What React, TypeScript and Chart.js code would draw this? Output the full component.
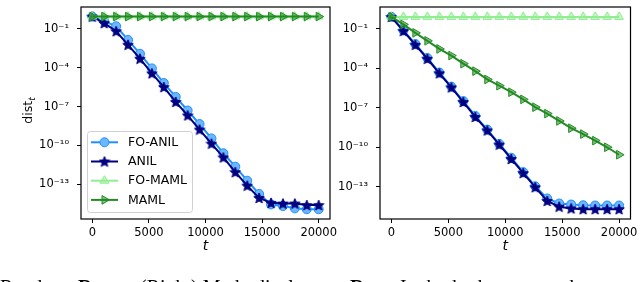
import React, { useEffect, useRef } from 'react';
import { Chart, registerables } from 'chart.js';
import { drawPoint } from 'chart.js/helpers';

Chart.register(...registerables);

// ---- data ----
const tValues = [0, 1053, 2105, 3158, 4211, 5263, 6316, 7368, 8421, 9474, 10526, 11579, 12632, 13684, 14737, 15789, 16842, 17895, 18947, 20000];
const xTickValues = [0, 5000, 10000, 15000, 20000];
const yTickValues = [1e-13, 1e-10, 1e-7, 1e-4, 1e-1];
const yTickLabels = ['10⁻¹³', '10⁻¹⁰', '10⁻⁷', '10⁻⁴', '10⁻¹'];
const seriesNames = ['FO-ANIL', 'ANIL', 'FO-MAML', 'MAML'];

// left panel (random init)
const leftFoAnil = [8.9e-1, 4.0e-1, 1.6e-1, 1.4e-2, 1.2e-3, 8.9e-5, 6.6e-6, 5.6e-7, 5.0e-8, 4.5e-9, 3.5e-10, 2.5e-11, 2.3e-12, 1.9e-13, 1.8e-14, 2.8e-15, 2.1e-15, 1.4e-15, 1.2e-15, 1.2e-15];
const leftAnil = [8.9e-1, 2.8e-1, 6.6e-2, 5.9e-3, 5.0e-4, 3.7e-5, 3.2e-6, 2.3e-7, 2.1e-8, 1.7e-9, 1.4e-10, 1.2e-11, 8.7e-13, 7.9e-14, 8.9e-15, 3.7e-15, 3.3e-15, 3.3e-15, 2.5e-15, 2.5e-15];
const leftFoMaml = [8.9e-1, 8.9e-1, 8.9e-1, 8.9e-1, 8.9e-1, 8.9e-1, 8.9e-1, 8.9e-1, 8.9e-1, 8.9e-1, 8.9e-1, 8.9e-1, 8.9e-1, 8.9e-1, 8.9e-1, 8.9e-1, 8.9e-1, 8.9e-1, 8.9e-1, 8.9e-1];
const leftMaml = [8.9e-1, 8.9e-1, 8.9e-1, 8.9e-1, 8.9e-1, 8.9e-1, 8.9e-1, 8.9e-1, 8.9e-1, 8.9e-1, 8.9e-1, 8.9e-1, 8.9e-1, 8.9e-1, 8.9e-1, 8.9e-1, 8.9e-1, 8.9e-1, 8.9e-1, 8.9e-1];

// right panel (methodical init)
const rightFoAnil = [7.8e-1, 7.6e-2, 6.8e-3, 6.0e-4, 4.7e-5, 4.0e-6, 3.2e-7, 2.4e-8, 2.2e-9, 1.8e-10, 1.6e-11, 1.3e-12, 1.1e-13, 1.3e-14, 5.4e-15, 4.5e-15, 4.0e-15, 3.8e-15, 3.8e-15, 3.8e-15];
const rightAnil = [7.8e-1, 6.6e-2, 6.0e-3, 5.2e-4, 4.1e-5, 3.5e-6, 2.7e-7, 2.0e-8, 1.9e-9, 1.6e-10, 1.3e-11, 1.1e-12, 9.3e-14, 8.5e-15, 3.1e-15, 2.3e-15, 2.0e-15, 2.0e-15, 2.0e-15, 2.0e-15];
const rightFoMaml = [7.8e-1, 7.8e-1, 7.8e-1, 7.8e-1, 7.8e-1, 7.8e-1, 7.8e-1, 7.8e-1, 7.8e-1, 7.8e-1, 7.8e-1, 7.8e-1, 7.8e-1, 7.8e-1, 7.8e-1, 7.8e-1, 7.8e-1, 7.8e-1, 7.8e-1, 7.8e-1];
const rightMaml = [7.8e-1, 2.1e-1, 4.8e-2, 1.2e-2, 2.9e-3, 9.1e-4, 2.2e-4, 6.0e-5, 1.4e-5, 4.7e-6, 1.5e-6, 4.3e-7, 1.1e-7, 3.6e-8, 1.0e-8, 2.8e-9, 1.0e-9, 3.2e-10, 1.0e-10, 2.7e-11];

const leftYRange = [2.1e-16, 4.9];
const rightYRange = [3.6e-16, 4.4];
const xRange = [-1000, 21000];

const FONT = 'DejaVu Sans';

function makeStar(size: number, fill: string, stroke: string) {
  const c = document.createElement('canvas');
  c.width = size;
  c.height = size;
  const ctx = c.getContext('2d')!;
  const cx = size / 2, cy = size / 2 + 0.5, R = size / 2 - 0.5, r = R * 0.45;
  ctx.beginPath();
  for (let i = 0; i < 10; i++) {
    const a = -Math.PI / 2 + (i * Math.PI) / 5;
    const rad = i % 2 === 0 ? R : r;
    ctx.lineTo(cx + rad * Math.cos(a), cy + rad * Math.sin(a));
  }
  ctx.closePath();
  ctx.fillStyle = fill;
  ctx.fill();
  ctx.strokeStyle = stroke;
  ctx.lineWidth = 1;
  ctx.stroke();
  return c;
}

function getStyles() {
  const star = makeStar(12, '#000080', '#000080');
  return [
    { color: '#1E90FF', fill: '#6cb6ff', pointStyle: 'circle' as any, radius: 4.5, rotation: 0, order: 4 },
    { color: '#000080', fill: '#000080', pointStyle: star as any, radius: 6, rotation: 0, order: 3 },
    { color: '#90EE90', fill: 'rgba(144,238,144,0.55)', pointStyle: 'triangle' as any, radius: 5, rotation: 0, order: 2 },
    { color: '#228B22', fill: 'rgba(34,139,34,0.55)', pointStyle: 'triangle' as any, radius: 5, rotation: 90, order: 1 },
  ];
}

function makeDatasets(series: number[][], styles: any[]) {
  return series.map((vals, i) => {
    const s = styles[i];
    return {
      label: seriesNames[i],
      data: tValues.map((t, k) => ({ x: t, y: vals[k] })),
      borderColor: s.color,
      backgroundColor: s.fill,
      borderWidth: 2,
      pointStyle: s.pointStyle,
      pointRadius: s.radius,
      pointRotation: s.rotation,
      pointBorderWidth: 1,
      pointBorderColor: s.color,
      pointBackgroundColor: s.fill,
      order: s.order,
      tension: 0,
    };
  });
}

const framePlugin = {
  id: 'frame',
  afterDraw(chart: any) {
    const { ctx, chartArea: a } = chart;
    ctx.save();
    ctx.strokeStyle = '#000';
    ctx.lineWidth = 1.2;
    ctx.strokeRect(a.left, a.top, a.right - a.left, a.bottom - a.top);
    ctx.restore();
  },
};

function legendPlugin(styles: any[]) {
  return {
    id: 'customLegend',
    afterDatasetsDraw(chart: any) {
      const ctx = chart.ctx;
      ctx.save();
      const bx = 87.5, by = 131.5, bw = 105, bh = 81, r = 3;
      ctx.beginPath();
      ctx.moveTo(bx + r, by);
      ctx.lineTo(bx + bw - r, by);
      ctx.arcTo(bx + bw, by, bx + bw, by + r, r);
      ctx.lineTo(bx + bw, by + bh - r);
      ctx.arcTo(bx + bw, by + bh, bx + bw - r, by + bh, r);
      ctx.lineTo(bx + r, by + bh);
      ctx.arcTo(bx, by + bh, bx, by + bh - r, r);
      ctx.lineTo(bx, by + r);
      ctx.arcTo(bx, by, bx + r, by, r);
      ctx.closePath();
      ctx.fillStyle = 'rgba(255,255,255,0.85)';
      ctx.fill();
      ctx.strokeStyle = '#d0d0d0';
      ctx.lineWidth = 1;
      ctx.stroke();
      const ys = [142.3, 161.5, 180.7, 199.9];
      seriesNames.forEach((name, i) => {
        const s = styles[i];
        const y = ys[i];
        ctx.strokeStyle = s.color;
        ctx.lineWidth = 2;
        ctx.beginPath();
        ctx.moveTo(91, y);
        ctx.lineTo(118, y);
        ctx.stroke();
        ctx.fillStyle = s.fill;
        ctx.strokeStyle = s.color;
        ctx.lineWidth = 1;
        drawPoint(ctx, { pointStyle: s.pointStyle, radius: s.radius, rotation: s.rotation, borderWidth: 1 } as any, 104.5, y);
        ctx.fillStyle = '#000';
        ctx.font = `12.5px "${FONT}"`;
        ctx.textBaseline = 'middle';
        ctx.textAlign = 'left';
        ctx.fillText(name, 128, y + 0.5);
      });
      ctx.restore();
    },
  };
}

const yTitlePlugin = {
  id: 'yTitle',
  afterDraw(chart: any) {
    const ctx = chart.ctx;
    ctx.save();
    ctx.translate(31.5, 110.5);
    ctx.rotate(-Math.PI / 2);
    ctx.fillStyle = '#000';
    ctx.textBaseline = 'alphabetic';
    ctx.textAlign = 'left';
    ctx.font = `12.5px "${FONT}"`;
    const w1 = ctx.measureText('dist').width;
    ctx.font = `9px "${FONT}"`;
    const w2 = ctx.measureText('t').width;
    const start = -(w1 + w2) / 2;
    ctx.font = `12.5px "${FONT}"`;
    ctx.fillText('dist', start, 0);
    ctx.font = `italic 9px "${FONT}"`;
    ctx.fillText('t', start + w1, 3);
    ctx.restore();
  },
};

function buildOptions(yRange: number[], padding: any, yWidth: number) {
  const tickGrid = { display: true, drawOnChartArea: false, drawTicks: true, tickLength: 4, color: '#000', lineWidth: 1 };
  return {
    animation: false as const,
    responsive: false,
    devicePixelRatio: 1,
    layout: { padding },
    plugins: { legend: { display: false }, tooltip: { enabled: false } },
    scales: {
      x: {
        type: 'linear' as const,
        min: xRange[0],
        max: xRange[1],
        afterBuildTicks: (s: any) => { s.ticks = xTickValues.map((v) => ({ value: v })); },
        afterFit: (s: any) => { s.height = 63; s.paddingLeft = 0; s.paddingRight = 0; },
        grid: tickGrid,
        border: { display: false },
        ticks: {
          color: '#000',
          font: { family: FONT, size: 11.5 },
          padding: 3,
          maxRotation: 0,
          autoSkip: false,
          callback: (v: any) => String(v),
        },
        title: {
          display: true,
          text: 't',
          color: '#000',
          font: { family: FONT, size: 14, style: 'italic' as const },
          padding: { top: 0, bottom: 27 },
        },
      },
      y: {
        type: 'logarithmic' as const,
        min: yRange[0],
        max: yRange[1],
        afterBuildTicks: (s: any) => { s.ticks = yTickValues.map((v) => ({ value: v })); },
        afterFit: (s: any) => { s.width = yWidth; s.paddingTop = 0; s.paddingBottom = 0; },
        grid: tickGrid,
        border: { display: false },
        ticks: {
          color: '#000',
          font: { family: FONT, size: 11.5 },
          padding: 8,
          autoSkip: false,
          callback: (v: any) => {
            const i = yTickValues.findIndex((t) => Math.abs(Math.log10(t) - Math.log10(v)) < 0.01);
            return i >= 0 ? yTickLabels[i] : '';
          },
        },
      },
    },
  };
}

export default function App() {
  const leftRef = useRef<HTMLCanvasElement>(null);
  const rightRef = useRef<HTMLCanvasElement>(null);

  useEffect(() => {
    const styles = getStyles();
    const left = new Chart(leftRef.current!, {
      type: 'line',
      data: { datasets: makeDatasets([leftFoAnil, leftAnil, leftFoMaml, leftMaml], styles) as any },
      options: buildOptions(leftYRange, { left: 0, right: 310, top: 2, bottom: 0 }, 81) as any,
      plugins: [legendPlugin(styles), framePlugin, yTitlePlugin],
    });
    const right = new Chart(rightRef.current!, {
      type: 'line',
      data: { datasets: makeDatasets([rightFoAnil, rightAnil, rightFoMaml, rightMaml], styles) as any },
      options: buildOptions(rightYRange, { left: 300, right: 9.5, top: 2, bottom: 0 }, 80) as any,
      plugins: [framePlugin],
    });
    return () => {
      left.destroy();
      right.destroy();
    };
  }, []);

  const capStyle: React.CSSProperties = {
    position: 'absolute',
    top: 276,
    fontFamily: '"Liberation Serif", "Times New Roman", serif',
    fontSize: 20,
    lineHeight: '22px',
    whiteSpace: 'nowrap',
    color: '#000',
  };

  return (
    <div style={{ position: 'fixed', left: 0, top: 0, width: 640, height: 282, overflow: 'hidden', background: '#fff' }}>
      <canvas ref={leftRef} width={640} height={282} style={{ position: 'absolute', left: 0, top: 0 }} />
      <canvas ref={rightRef} width={640} height={282} style={{ position: 'absolute', left: 0, top: 0 }} />
      <div style={{ ...capStyle, left: 0 }}>Random</div>
      <div style={{ ...capStyle, left: 78 }}><b>R</b><sub style={{ fontSize: 13 }}>p0</sub>.</div>
      <div style={{ ...capStyle, left: 140 }}>(Right) Methodical</div>
      <div style={{ ...capStyle, left: 350 }}><b>R</b><sub style={{ fontSize: 13 }}>p0</sub>.</div>
      <div style={{ ...capStyle, left: 400, wordSpacing: 5 }}>In both the cases, the</div>
    </div>
  );
}
